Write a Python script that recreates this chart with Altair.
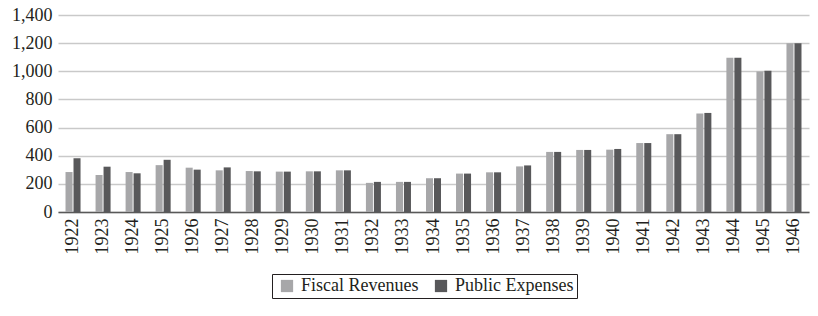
import altair as alt
import pandas as pd

years = [str(y) for y in range(1922, 1947)]
fiscal_revenues = [284, 263, 284, 333, 315, 296, 291, 287, 289, 296, 207, 214, 240, 273, 282, 324,
                   427, 441, 443, 490, 553, 700, 1096, 998, 1199]
public_expenses = [382, 322, 275, 371, 301, 317, 289, 287, 289, 296, 214, 214, 240, 273, 282, 331,
                   427, 441, 448, 490, 553, 704, 1096, 1003, 1199]
series = ["Fiscal Revenues", "Public Expenses"]
colors = ["#a7a7a9", "#58585a"]

rows = []
for i, y in enumerate(years):
    rows.append({"year": y, "series": series[0], "value": fiscal_revenues[i]})
    rows.append({"year": y, "series": series[1], "value": public_expenses[i]})
df = pd.DataFrame(rows)

FONT = "Liberation Serif"

chart = alt.Chart(df).mark_bar().encode(
    x=alt.X("year:N", sort=years, title=None,
            scale=alt.Scale(paddingInner=0.5, paddingOuter=0.25),
            axis=alt.Axis(labelAngle=270, labelAlign="right", labelBaseline="middle",
                          labelPadding=6, ticks=False, domainColor="#595959",
                          domainWidth=1.5, labelFontSize=18, labelColor="#231f20",
                          grid=False)),
    xOffset=alt.XOffset("series:N", sort=series, scale=alt.Scale(paddingInner=0.12)),
    y=alt.Y("value:Q", title=None,
            scale=alt.Scale(domain=[0, 1400], nice=False),
            axis=alt.Axis(values=list(range(0, 1401, 200)), format=",d", ticks=False,
                          domain=False, gridColor="#c9c9c9", gridWidth=1.5,
                          labelFontSize=18, labelColor="#231f20",
                          labelPadding=6)),
    color=alt.Color("series:N", sort=series,
                    scale=alt.Scale(domain=series, range=colors),
                    legend=alt.Legend(title=None, orient="none", legendX=214, legendY=259,
                                      direction="horizontal", symbolType="square",
                                      symbolSize=150, symbolStrokeWidth=0, symbolOffset=3,
                                      labelFontSize=18, labelColor="#231f20",
                                      strokeColor="#231f20", padding=3, columnPadding=10,
                                      labelOffset=5)),
).properties(
    width=751, height=197,
    autosize=alt.AutoSizeParams(type="none"),
    padding={"left": 50, "top": 7, "right": 1, "bottom": 88},
).configure(font=FONT).configure_axis(labelFont=FONT).configure_legend(labelFont=FONT).configure_view(stroke=None)

chart.save("out.html", embed_options={"renderer": "svg", "actions": False})
